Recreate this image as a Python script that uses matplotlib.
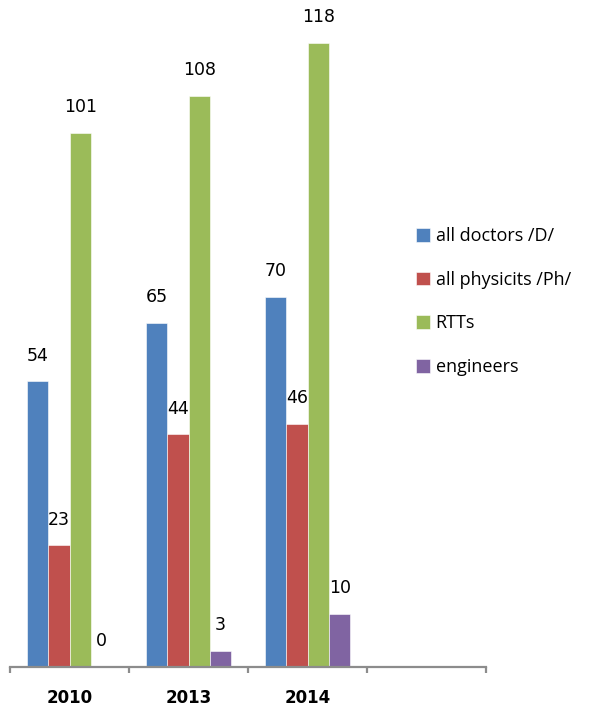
import numpy as np
import matplotlib.pyplot as plt

# staff counts per year; the fourth category slot is left empty
years = ["2010", "2013", "2014", ""]
doctors = [54, 65, 70]
physicists = [23, 44, 46]
rtts = [101, 108, 118]
engineers = [0, 3, 10]

series = [
    ("all doctors /D/", doctors, "#4F81BD"),
    ("all physicits /Ph/", physicists, "#C0504D"),
    ("RTTs", rtts, "#9BBB59"),
    ("engineers", engineers, "#8064A2"),
]

fig = plt.figure(figsize=(5.96, 7.10), dpi=100)
ax = fig.add_axes([10 / 596, 43 / 710, 476 / 596, 667 / 710])

bar_w = 0.18
centers = np.arange(len(years)) + 0.5
for i, (name, values, color) in enumerate(series):
    x = centers[: len(values)] + (i - 1.5) * bar_w
    ax.bar(x, values, width=bar_w, color=color, edgecolor="white",
           linewidth=0.4, label=name)
    for xi, v in zip(x, values):
        ax.annotate(str(v), (xi, v), xytext=(0, 18.5), textcoords="offset points",
                    ha="center", va="center", fontsize=12.5, color="black")

ax.set_xlim(0, len(years))
ax.set_ylim(0, 126.1)

for side in ["top", "right", "left"]:
    ax.spines[side].set_visible(False)
ax.spines["bottom"].set_color("#8C8C8C")
ax.spines["bottom"].set_linewidth(1.6)
ax.set_yticks([])

# boundary ticks carry the marks, centered minor ticks carry the year labels
ax.set_xticks(np.arange(len(years) + 1))
ax.set_xticklabels([])
ax.tick_params(axis="x", which="major", length=4.5, width=1.6, color="#8C8C8C",
               direction="out")
ax.set_xticks(centers, minor=True)
ax.set_xticklabels(years, minor=True, fontsize=12, fontweight="bold")
ax.tick_params(axis="x", which="minor", length=0, pad=16)

fig.legend(loc="upper left", bbox_to_anchor=(409 / 596, 1 - 220 / 710),
           frameon=False, prop={"family": "Open Sans", "size": 13},
           handlelength=0.78, handleheight=0.78, handletextpad=0.3,
           labelspacing=1.42, borderaxespad=0)

fig.savefig("out.png", dpi=100)
